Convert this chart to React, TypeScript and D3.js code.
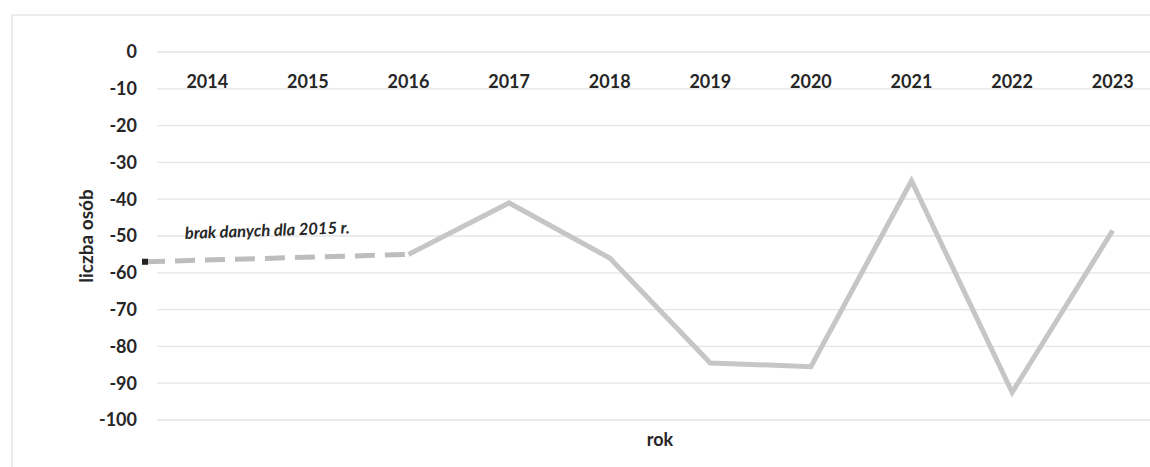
import React from "react";
import * as d3 from "d3";

const years = ["2014", "2015", "2016", "2017", "2018", "2019", "2020", "2021", "2022", "2023"];
const solidYears = ["2016", "2017", "2018", "2019", "2020", "2021", "2022", "2023"];
const solidValues = [-55, -41, -56, -84.5, -85.5, -35, -92.5, -48.5];
const dashedYears = ["2014", "2016"];
const dashedValues = [-57, -55];
const yTicks = [0, -10, -20, -30, -40, -50, -60, -70, -80, -90, -100];
const yTitle = "liczba osób";
const xTitle = "rok";
const note = "brak danych dla 2015 r.";

export default function App() {
  const W = 1150, H = 467;
  const x = d3.scaleBand<string>().domain(years).range([157, 1163]);
  const y = d3.scaleLinear().domain([0, -100]).range([52, 420]);
  const cx = (yr: string) => (x(yr) as number) + x.bandwidth() / 2;

  const line = d3.line<[number, number]>().x(d => d[0]).y(d => d[1]);
  const solidPts: [number, number][] = solidYears.map((yr, i) => [cx(yr), y(solidValues[i])]);
  const dashedPts: [number, number][] = dashedYears.map((yr, i) => [
    i === 0 ? (x(yr) as number) - 12 : cx(yr),
    y(dashedValues[i]),
  ]);

  const font = "Lato, 'Open Sans', sans-serif";
  const txt = "#262626";

  return (
    <svg width={W} height={H} style={{ position: "absolute", left: 0, top: 0, background: "#fff" }}>
      <path d={`M12,${H} L12,15 L${W},15`} fill="none" stroke="#e6e6e6" strokeWidth={1.5} />
      {yTicks.map(t => (
        <g key={t}>
          <line x1={157} x2={W} y1={y(t)} y2={y(t)} stroke="#e4e4e4" strokeWidth={1.3} />
          <text x={137} y={y(t)} dy="0.35em" textAnchor="end" fontFamily={font} fontWeight={700} fontSize={18} fill={txt}>
            {t}
          </text>
        </g>
      ))}
      {years.map(yr => (
        <text key={yr} x={cx(yr)} y={82} dy="0.35em" textAnchor="middle" fontFamily={font} fontWeight={700} fontSize={18} fill={txt}>
          {yr}
        </text>
      ))}
      <path d={line(dashedPts) || ""} fill="none" stroke="#bdbdbd" strokeWidth={5} strokeDasharray="20 10" />
      <rect x={dashedPts[0][0] - 3} y={dashedPts[0][1] - 3} width={6} height={6} fill="#222" />
      <path d={line(solidPts) || ""} fill="none" stroke="#c6c6c6" strokeWidth={5} strokeLinejoin="miter" />
      <text x={185} y={239} transform="rotate(-2 185 239)" fontFamily={font} fontStyle="italic" fontWeight={700} fontSize={16.5} fill={txt}>
        {note}
      </text>
      <text transform={`translate(86,236) rotate(-90)`} textAnchor="middle" dy="0.35em" fontFamily={font} fontWeight={700} fontSize={19} fill={txt}>
        {yTitle}
      </text>
      <text x={660} y={440} textAnchor="middle" dy="0.35em" fontFamily={font} fontWeight={700} fontSize={18} fill={txt}>
        {xTitle}
      </text>
    </svg>
  );
}
